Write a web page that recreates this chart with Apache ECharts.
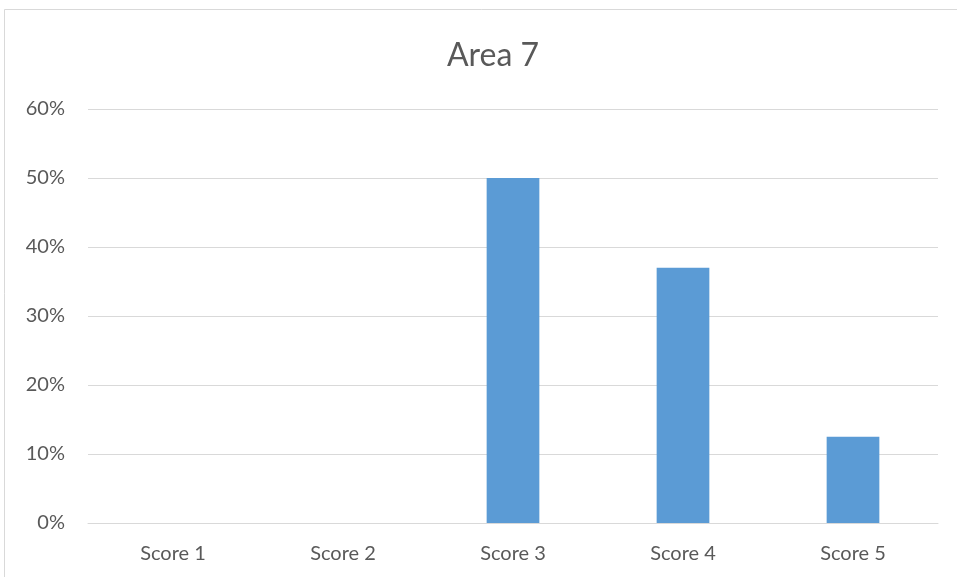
<!DOCTYPE html>
<html>
<head>
<meta charset="utf-8">
<style>
  html, body { margin: 0; padding: 0; background: #ffffff; }
  #chart { width: 957px; height: 577px; }
</style>
<script src="https://cdn.jsdelivr.net/npm/echarts@6/dist/echarts.min.js"></script>
</head>
<body>
<div id="chart"></div>
<script>
const categories = ['Score 1', 'Score 2', 'Score 3', 'Score 4', 'Score 5'];
const shares = [0, 0, 0.50, 0.37, 0.125];
const chartTitle = 'Area 7';

const chart = echarts.init(document.getElementById('chart'), null, { renderer: 'canvas' });

const textColor = '#595959';
const fontFamily = 'Lato, "Open Sans", sans-serif';

chart.setOption({
  animation: false,
  backgroundColor: '#ffffff',
  graphic: [{
    type: 'rect',
    shape: { x: 4.5, y: 9.5, width: 960, height: 580 },
    style: { fill: 'none', stroke: '#d9d9d9', lineWidth: 1 },
    silent: true
  }],
  title: {
    text: chartTitle,
    left: 442,
    top: 35,
    textStyle: { color: textColor, fontSize: 32, fontWeight: 'normal', fontFamily: fontFamily }
  },
  grid: { left: 88, right: 19, top: 109, bottom: 54, containLabel: false },
  xAxis: {
    type: 'category',
    data: categories,
    axisLine: { show: true, lineStyle: { color: '#d9d9d9', width: 1 } },
    axisTick: { show: false },
    axisLabel: { color: textColor, fontSize: 20, fontFamily: fontFamily, margin: 21 }
  },
  yAxis: {
    type: 'value',
    min: 0,
    max: 0.6,
    interval: 0.1,
    axisLine: { show: false },
    axisTick: { show: false },
    splitLine: { lineStyle: { color: '#d9d9d9', width: 1 } },
    axisLabel: {
      color: textColor, fontSize: 20, fontFamily: fontFamily, margin: 23,
      formatter: v => Math.round(v * 100) + '%'
    }
  },
  series: [{
    type: 'bar',
    data: shares,
    barWidth: '31%',
    itemStyle: { color: '#5b9bd5' }
  }]
});
</script>
</body>
</html>
